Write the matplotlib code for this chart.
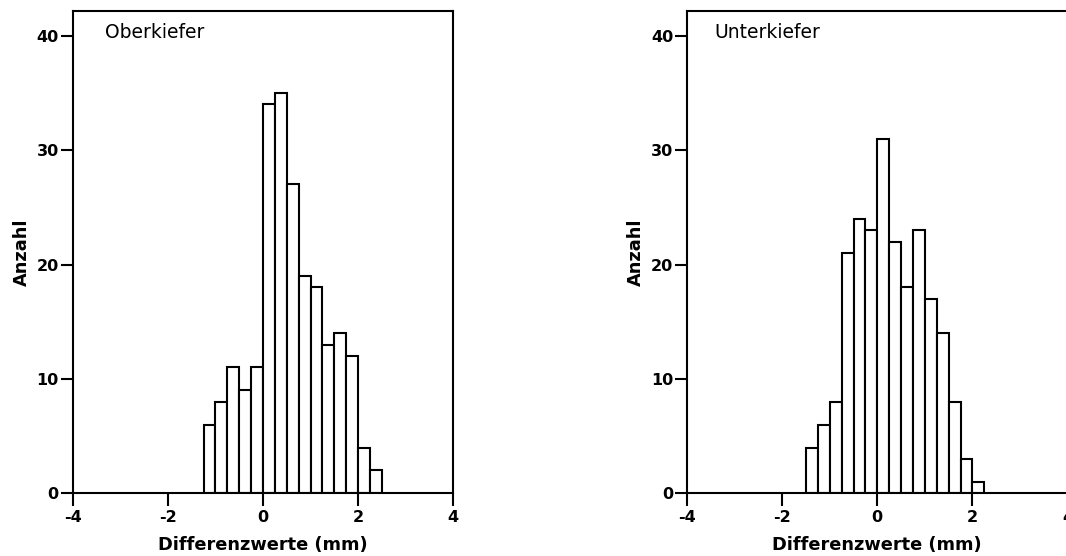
import numpy as np
import matplotlib
matplotlib.use("Agg")
import matplotlib.pyplot as plt

plt.rcParams['font.family'] = ['DejaVu Sans']
plt.rcParams['axes.unicode_minus'] = False

# Häufigkeiten der Differenzwerte, Klassenbreite 0.25 mm
bin_width = 0.25
ok_start = -1.25
ok_counts = [6, 8, 11, 9, 11, 34, 35, 27, 19, 18, 13, 14, 12, 4, 2]
uk_start = -1.5
uk_counts = [4, 6, 8, 21, 24, 23, 31, 22, 18, 23, 17, 14, 8, 3, 1]

x_ticks = [-4, -2, 0, 2, 4]
y_ticks = [0, 10, 20, 30, 40]

W, H = 1066, 556
fig = plt.figure(figsize=(W / 100, H / 100), dpi=100)
ax_ok = fig.add_axes([72.7 / W, (H - 493.3) / H, 380.6 / W, 482.3 / H])
ax_uk = fig.add_axes([687 / W, (H - 493.3) / H, 380.6 / W, 482.3 / H])


def histogramm(ax, start, counts, titel, titel_x):
    edges = start + bin_width * np.arange(len(counts))
    ax.bar(edges, counts, width=bin_width, align='edge',
           facecolor='white', edgecolor='black', linewidth=1.5)
    ax.set_xlim(-4, 4)
    ax.set_ylim(0, 42.16)
    ax.set_xticks(x_ticks)
    ax.set_yticks(y_ticks)
    ax.tick_params(direction='out', length=9, width=1.5, labelsize=11.5)
    ax.tick_params(axis='x', pad=3)
    ax.tick_params(axis='y', pad=1)
    for lbl in ax.get_xticklabels() + ax.get_yticklabels():
        lbl.set_fontweight('bold')
    for sp in ax.spines.values():
        sp.set_linewidth(1.5)
    ax.set_xlabel('Differenzwerte (mm)', fontsize=12.8, fontweight='bold', labelpad=8)
    ax.set_ylabel('Anzahl', fontsize=12.8, fontweight='bold', labelpad=4)
    ax.text(titel_x, 40.3, titel, fontsize=13.5, ha='left', va='center')


histogramm(ax_ok, ok_start, ok_counts, 'Oberkiefer', -3.33)
histogramm(ax_uk, uk_start, uk_counts, 'Unterkiefer', -3.43)

fig.savefig('out.png', dpi=100)
